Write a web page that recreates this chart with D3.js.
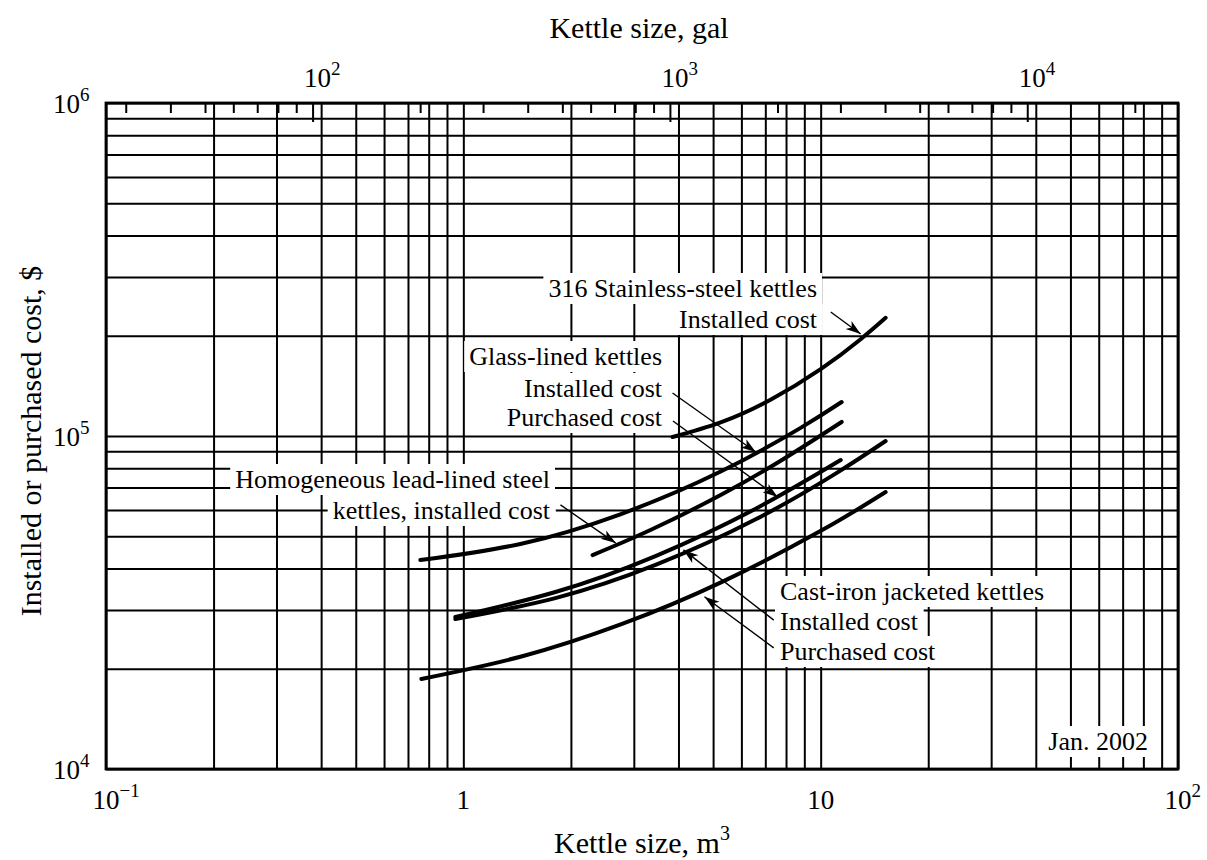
<!DOCTYPE html>
<html>
<head>
<meta charset="utf-8">
<script src="https://cdn.jsdelivr.net/npm/d3@7"></script>
<style>
  body { margin: 0; background: #fff; }
  svg { display: block; }
  text { font-family: "Liberation Serif", "Times New Roman", serif; fill: #000; }
</style>
</head>
<body>
<svg id="chart" width="1207" height="860"></svg>
<script>
// Kettle size (m^3) and cost ($, Jan. 2002) along each curve
const ssInstalledSize = [3.85, 5.25, 7.24, 10.0, 12.94, 15.2];
const ssInstalledCost = [99300, 109900, 128500, 158700, 195300, 226400];

const glassInstalledSize = [0.758, 1.444, 2.75, 5.25, 8.79, 11.45];
const glassInstalledCost = [42400, 47400, 58200, 78200, 105800, 126500];

const glassPurchasedSize = [0.95, 1.81, 3.45, 6.58, 11.38];
const glassPurchasedCost = [28600, 34000, 43600, 60500, 84700];

const leadInstalledSize = [2.3, 3.34, 5.25, 7.73, 11.45];
const leadInstalledCost = [43900, 52200, 66500, 84300, 110200];

const castInstalledSize = [0.95, 1.81, 3.45, 6.58, 11.01, 15.2];
const castInstalledCost = [28200, 32600, 41000, 56200, 77100, 96600];

const castPurchasedSize = [0.763, 1.454, 2.77, 5.28, 10.07, 15.2];
const castPurchasedCost = [18640, 21770, 27220, 36420, 52090, 67870];

// Axis tick labels (base, exponent)
const xTickValues = [0.1, 1, 10, 100];
const xTickLabels = [["10", "\u22121"], ["1", ""], ["10", ""], ["10", "2"]];
const yTickValues = [1e4, 1e5, 1e6];
const yTickLabels = [["10", "4"], ["10", "5"], ["10", "6"]];
const galTickValues = [100, 1000, 10000];
const galTickLabels = [["10", "2"], ["10", "3"], ["10", "4"]];

// Pointer arrows: [size, cost] from label to curve
const arrows = [
  [[10.67, 235700], [12.94, 202500]],
  [[3.85, 134600], [6.58, 89500]],
  [[3.86, 110900], [7.58, 65600]],
  [[1.87, 62100], [2.67, 47700]],
  [[7.39, 28000], [4.13, 45500]],
  [[7.39, 23100], [4.73, 32900]]
];

const GAL_PER_M3 = 264.172;

const svg = d3.select("#chart");
const margin = { left: 106, top: 103, right: 29, bottom: 91 };
const W = 1207 - margin.left - margin.right;
const H = 860 - margin.top - margin.bottom;

const x = d3.scaleLog().domain([0.1, 100]).range([0, W]);
const y = d3.scaleLog().domain([1e4, 1e6]).range([H, 0]);
const xGal = d3.scaleLog().domain([0.1 * GAL_PER_M3, 100 * GAL_PER_M3]).range([0, W]);

const g = svg.append("g").attr("transform", `translate(${margin.left},${margin.top})`);
const gridLayer = g.append("g");
const maskLayer = g.append("g");
const curveLayer = g.append("g");
const arrowLayer = g.append("g");
const textLayer = g.append("g");

// log-cycle grid values
const decades = (lo, hi) => d3.range(lo, hi).flatMap(e => d3.range(1, 10).map(k => +(k * Math.pow(10, e)).toPrecision(6)));
const xGridValues = decades(-1, 2).concat([100]);
const yGridValues = decades(4, 6).concat([1e6]);

gridLayer.append("g")
  .attr("transform", `translate(0,${H})`)
  .call(d3.axisBottom(x).tickValues(xGridValues).tickSize(-H).tickFormat(""))
  .call(a => a.select(".domain").remove())
  .call(a => a.selectAll("line").attr("stroke", "#000").attr("stroke-width", 2));

gridLayer.append("g")
  .call(d3.axisLeft(y).tickValues(yGridValues).tickSize(-W).tickFormat(""))
  .call(a => a.select(".domain").remove())
  .call(a => a.selectAll("line").attr("stroke", "#000").attr("stroke-width", 2));

// top gallon scale ticks
const galMinor = decades(1, 5).filter(v => v >= xGal.domain()[0] && v <= xGal.domain()[1] && !galTickValues.includes(v));
gridLayer.append("g")
  .call(d3.axisTop(xGal).tickValues(galMinor).tickSize(-10).tickFormat(""))
  .call(a => a.select(".domain").remove())
  .call(a => a.selectAll("line").attr("stroke", "#000").attr("stroke-width", 2));
gridLayer.append("g")
  .call(d3.axisTop(xGal).tickValues(galTickValues).tickSize(-19).tickFormat(""))
  .call(a => a.select(".domain").remove())
  .call(a => a.selectAll("line").attr("stroke", "#000").attr("stroke-width", 2));

// plot frame
g.append("rect").attr("width", W).attr("height", H)
  .attr("fill", "none").attr("stroke", "#000").attr("stroke-width", 2.8);

// power-of-ten tick labels
function powerText(sel, base, exp, fs) {
  sel.attr("font-size", fs);
  const b = sel.append("tspan").text(base);
  if (exp) sel.append("tspan").attr("font-size", 19).attr("dy", -12).text(exp);
  return b.node().getComputedTextLength();
}

xTickValues.forEach((v, i) => {
  const t = svg.append("text").attr("y", margin.top + H + 40);
  const w = powerText(t, xTickLabels[i][0], xTickLabels[i][1], 27);
  t.attr("x", margin.left + x(v) - w / 2);
});

yTickValues.forEach((v, i) => {
  const t = svg.append("text").attr("y", margin.top + y(v) + 10);
  const w = powerText(t, yTickLabels[i][0], yTickLabels[i][1], 27);
  t.attr("x", 80 - w);
});

galTickValues.forEach((v, i) => {
  const t = svg.append("text").attr("y", 87);
  const w = powerText(t, galTickLabels[i][0], galTickLabels[i][1], 27);
  t.attr("x", margin.left + xGal(v) - w / 2 + 5);
});

// axis titles
svg.append("text").attr("x", margin.left + W / 2 - 3).attr("y", 38)
  .attr("text-anchor", "middle").attr("font-size", 30).text("Kettle size, gal");
const xt = svg.append("text").attr("x", margin.left + W / 2).attr("y", 853)
  .attr("text-anchor", "middle").attr("font-size", 30);
xt.append("tspan").text("Kettle size, m");
xt.append("tspan").attr("font-size", 20).attr("dy", -13).text("3");
svg.append("text")
  .attr("transform", `translate(41,${margin.top + H / 2 + 5}) rotate(-90)`)
  .attr("text-anchor", "middle").attr("font-size", 30)
  .text("Installed or purchased cost, $");

// cost curves
const line = d3.line().x(d => x(d[0])).y(d => y(d[1])).curve(d3.curveNatural);
const series = [
  [ssInstalledSize, ssInstalledCost],
  [glassInstalledSize, glassInstalledCost],
  [glassPurchasedSize, glassPurchasedCost],
  [leadInstalledSize, leadInstalledCost],
  [castInstalledSize, castInstalledCost],
  [castPurchasedSize, castPurchasedCost]
];
series.forEach(([s, c]) => {
  curveLayer.append("path")
    .datum(d3.zip(s, c))
    .attr("d", line)
    .attr("fill", "none").attr("stroke", "#000")
    .attr("stroke-width", 4).attr("stroke-linecap", "round");
});

// arrowhead
svg.append("defs").append("marker")
  .attr("id", "head").attr("viewBox", "-16 -6 18 12")
  .attr("refX", 0).attr("refY", 0)
  .attr("markerWidth", 18).attr("markerHeight", 12)
  .attr("markerUnits", "userSpaceOnUse").attr("orient", "auto")
  .append("path").attr("d", "M0,0 L-15,-5 L-11,0 L-15,5 Z").attr("fill", "#000");

arrows.forEach(([a, b]) => {
  arrowLayer.append("line")
    .attr("x1", x(a[0])).attr("y1", y(a[1]))
    .attr("x2", x(b[0])).attr("y2", y(b[1]))
    .attr("stroke", "#000").attr("stroke-width", 1.4)
    .attr("marker-end", "url(#head)");
});

// curve labels (page positions)
const labels = [
  ["316 Stainless-steel kettles", 817, 297, "end"],
  ["Installed cost", 817, 328, "end"],
  ["Glass-lined kettles", 662, 365, "end"],
  ["Installed cost", 662, 397, "end"],
  ["Purchased cost", 662, 426, "end"],
  ["Homogeneous lead-lined steel", 550, 488, "end"],
  ["kettles, installed cost", 550, 519, "end"],
  ["Cast-iron jacketed kettles", 780, 600, "start"],
  ["Installed cost", 780, 630, "start"],
  ["Purchased cost", 780, 660, "start"],
  ["Jan. 2002", 1148, 750, "end"]
];
labels.forEach(([txt, px, py, anchor]) => {
  const t = textLayer.append("text")
    .attr("x", px - margin.left).attr("y", py - margin.top)
    .attr("text-anchor", anchor).attr("font-size", 26).text(txt);
  const bb = t.node().getBBox();
  maskLayer.append("rect")
    .attr("x", bb.x - 5).attr("y", bb.y - 1)
    .attr("width", bb.width + 10).attr("height", bb.height + 2)
    .attr("fill", "#fff");
});
</script>
</body>
</html>
